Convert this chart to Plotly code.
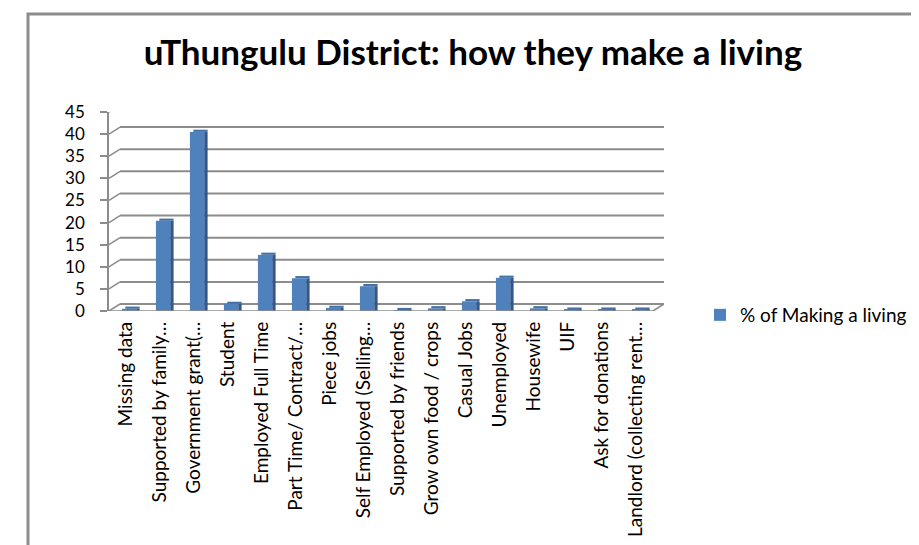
import plotly.graph_objects as go

categories = [
    "Missing data", "Supported by family…", "Government grant(…", "Student",
    "Employed Full Time", "Part Time/ Contract/…", "Piece jobs",
    "Self Employed (Selling…", "Supported by friends", "Grow own food / crops",
    "Casual Jobs", "Unemployed", "Housewife", "UIF", "Ask for donations",
    "Landlord (collecting rent…",
]
values = [0.5, 20.4, 40.5, 1.6, 12.7, 7.4, 0.7, 5.6, 0.2, 0.6, 2.2, 7.5, 0.6, 0.3, 0.3, 0.3]
series_name = "% of Making a living"
y_ticks = [0, 5, 10, 15, 20, 25, 30, 35, 40, 45]

x_idx = list(range(len(categories)))
FRONT = "#4F81BD"
SIDE = "#34578A"
TOP = "#4472A8"
GRID = "#8C8C8C"

# geometry (pixels)
PL, PR, PT, PB = 101, 656, 104, 303
CAT_PX = 34.0
DX, DY = 11, 7           # depth offset of the back wall
PW = PR - PL
x_hi = -0.5 + PW / CAT_PX

fig = go.Figure()
fig.add_trace(go.Bar(x=x_idx, y=values, width=0.1, offset=0.3, marker=dict(color=SIDE, line=dict(width=0)),
                     showlegend=False, hoverinfo="skip"))
fig.add_trace(go.Bar(x=x_idx, y=values, width=0.42, offset=-0.12, name=series_name,
                     marker=dict(color=FRONT, line=dict(width=0))))
fig.add_trace(go.Bar(x=x_idx, y=[0.5] * len(values), base=values, width=0.42, offset=-0.02,
                     marker=dict(color=TOP, line=dict(width=0)), showlegend=False, hoverinfo="skip"))

shapes = []
# chart border
shapes.append(dict(type="rect", xref="paper", yref="paper",
                   x0=(20 - PL) / PW, x1=(913 - PL) / PW,
                   y0=(PB - 560) / (PB - PT), y1=(PB - 6) / (PB - PT),
                   line=dict(color="#8C8C8C", width=3), layer="below"))
# back-wall gridlines and side-wall diagonals
for v in y_ticks:
    shapes.append(dict(type="line", xref="paper", xsizemode="pixel", xanchor=0, x0=DX, x1=PW,
                       yref="y", ysizemode="pixel", yanchor=v, y0=DY, y1=DY,
                       line=dict(color=GRID, width=2), layer="below"))
    shapes.append(dict(type="line", xref="paper", xsizemode="pixel", xanchor=0, x0=0, x1=DX,
                       yref="y", ysizemode="pixel", yanchor=v, y0=0, y1=DY,
                       line=dict(color=GRID, width=1.5), layer="below"))
# floor front edge and right diagonal
shapes.append(dict(type="line", xref="x", yref="y", x0=-0.5, x1=len(categories) - 0.5, y0=0, y1=0,
                   line=dict(color=GRID, width=1.5)))
shapes.append(dict(type="line", xref="x", xsizemode="pixel", xanchor=len(categories) - 0.5, x0=0, x1=DX,
                   yref="y", ysizemode="pixel", yanchor=0, y0=0, y1=DY,
                   line=dict(color=GRID, width=1.5)))
# category boundary ticks
for i in range(len(categories) + 1):
    shapes.append(dict(type="line", xref="x", yref="y", ysizemode="pixel", yanchor=0,
                       x0=i - 0.5, x1=i - 0.5, y0=0, y1=-5,
                       line=dict(color=GRID, width=1.5)))

fig.update_layout(
    width=919, height=545,
    margin=dict(l=PL, r=919 - PR, t=PT, b=545 - PB),
    paper_bgcolor="white", plot_bgcolor="white",
    barmode="overlay",
    title=dict(text="<b>uThungulu District: how they make a living</b>", x=(465 - PL) / PW, xanchor="center",
               xref="paper", y=1 - 45 / 545, yanchor="middle",
               font=dict(family="Lato, Open Sans, sans-serif", size=35, color="black")),
    font=dict(family="Lato, Open Sans, sans-serif", size=14, color="black"),
    showlegend=True,
    legend=dict(x=(692 - PL) / PW, y=(PB - 307) / (PB - PT), xanchor="left", yanchor="middle",
                font=dict(size=19), bgcolor="rgba(0,0,0,0)", itemwidth=30),
    xaxis=dict(
        tickmode="array", tickvals=x_idx, ticktext=categories, tickangle=-90,
        range=[-0.5, x_hi], showgrid=False, showline=False,
        ticks="", zeroline=False, tickfont=dict(size=19), ticklabelstandoff=6,
    ),
    yaxis=dict(
        range=[0, 45], tickvals=y_ticks, showgrid=False,
        showline=True, linecolor=GRID, linewidth=1.5, ticks="outside", ticklen=7,
        tickcolor=GRID, tickwidth=1.5, zeroline=False, tickfont=dict(size=17),
        ticklabelstandoff=12,
    ),
    shapes=shapes,
)

fig.write_html("out.html")
